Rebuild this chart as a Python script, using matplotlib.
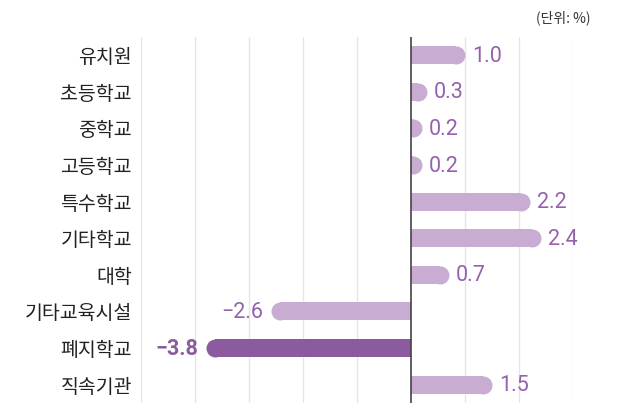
import matplotlib.pyplot as plt
from matplotlib.patches import Rectangle

categories = ['유치원', '초등학교', '중학교', '고등학교', '특수학교', '기타학교', '대학', '기타교육시설', '폐지학교', '직속기관']
values = [1.0, 0.3, 0.2, 0.2, 2.2, 2.4, 0.7, -2.6, -3.8, 1.5]
labels = ['1.0', '0.3', '0.2', '0.2', '2.2', '2.4', '0.7', '\u22122.6', '\u22123.8', '1.5']
highlight = '폐지학교'

plt.rcParams['font.family'] = ['Noto Sans CJK KR', 'DejaVu Sans']

LIGHT = '#c8acd2'
DARK = '#8c5a9f'
TEXT = '#9561ad'

fig = plt.figure(figsize=(6.18, 4.03), dpi=100)
ax = fig.add_axes([141 / 618, 0, 432 / 618, 1 - 37 / 403])
ax.set_xlim(-5, 3)
ax.set_ylim(9.5, -0.5)

# data units per pixel
px_x = 8 / 432
bar_px = 18
r = (bar_px / 2) * px_x
bar_h = bar_px / 36.6

for x in range(-5, 4):
    if x != 0:
        ax.axvline(x, color='#e6e6e6', lw=1, zorder=0)

for i, (cat, v, lab) in enumerate(zip(categories, values, labels)):
    col = DARK if cat == highlight else LIGHT
    sign = 1 if v > 0 else -1
    inner = v - sign * r
    ax.barh(i, inner, height=bar_h, color=col, lw=0, zorder=2)
    m, = ax.plot([inner], [i], 'o', ms=bar_px * 0.72, color=col, mec='none', zorder=2)
    clip = Rectangle((0, -1) if v > 0 else (-10, -1), 10, 12, transform=ax.transData)
    m.set_clip_path(clip)
    bold = cat == highlight
    ax.text(v + sign * 7 * px_x, i + 0.03, lab, ha='left' if v > 0 else 'right', va='center',
            fontsize=15.5, color=DARK if bold else TEXT, family='Roboto',
            fontweight='bold' if bold else 'normal')

ax.axvline(0, color='#444444', lw=1.2, zorder=3)

ax.set_yticks(range(len(categories)))
ax.set_yticklabels(categories, fontsize=14, color='#222222')
ax.tick_params(axis='y', length=0, pad=6.5)
ax.set_xticks([])
for s in ax.spines.values():
    s.set_visible(False)

fig.text(590 / 618, 1 - 18 / 403, '(단위: %)', ha='right', va='center', fontsize=10, color='#333333')

fig.savefig('out.png', dpi=100)
